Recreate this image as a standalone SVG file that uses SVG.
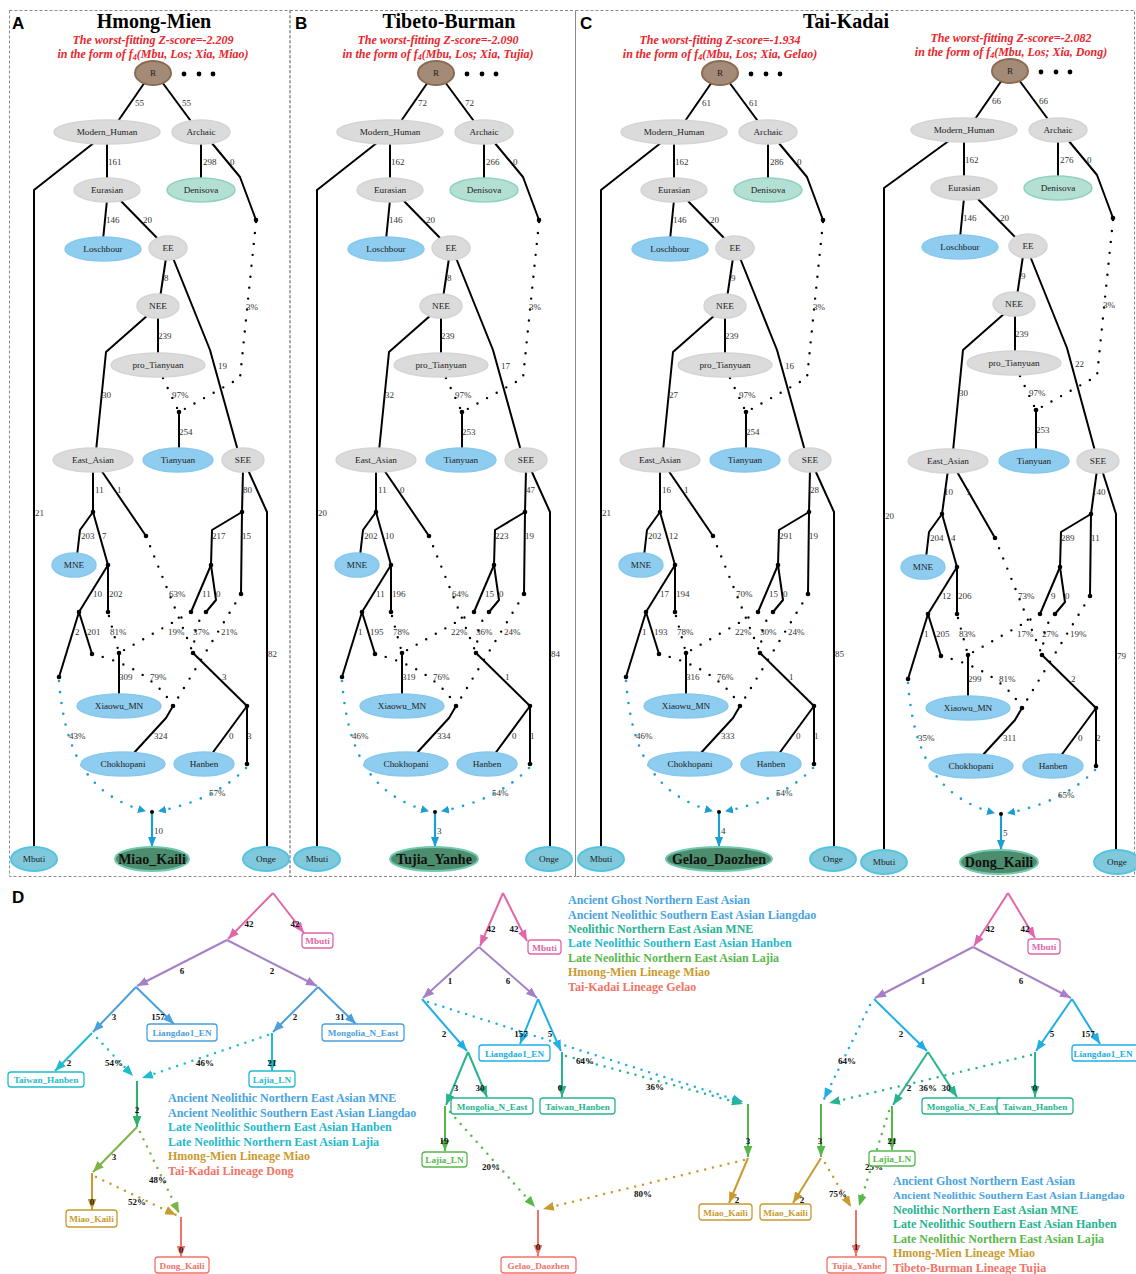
<svg xmlns="http://www.w3.org/2000/svg" width="1136" height="1274" viewBox="0 0 1136 1274">
<style>
text{font-family:"Liberation Serif","Times New Roman",serif}
.n ellipse{stroke-width:1.5}
.n text{font-size:9.2px;fill:#222;text-anchor:middle}
.g ellipse{fill:#dbdbdb;stroke:#d4d4d4}
.b ellipse{fill:#8ecdf0;stroke:#86c8ee}
.dn ellipse{fill:#b4e0d4;stroke:#8dd2c0}
.o ellipse{fill:#80c9dc;stroke:#55c4e0;stroke-width:2}
.r ellipse{fill:#a48b77;stroke:#8a6c53;stroke-width:2}
.r circle{fill:#000}
.t ellipse{fill:#4b8d6d;stroke:#72c8b0;stroke-width:2}
.t text{font-size:14px;font-weight:bold;fill:#111}
.e path{fill:none;stroke:#000;stroke-width:2;stroke-linejoin:round}
.e path.dt{stroke-width:2.4;stroke-dasharray:0 11;stroke-linecap:round}
.e path.cd{stroke:#1a9ed4;stroke-width:2.6;stroke-dasharray:0 11;stroke-linecap:round;marker-end:url(#ca)}
.e path.cs{stroke:#1a9ed4;stroke-width:2.2;marker-end:url(#cb)}
.e circle{fill:#000}
.lb text{font-size:9px;fill:#333}
.ttl{font-size:20px;font-weight:bold;text-anchor:middle;fill:#000}
.sub{font-size:12px;font-weight:bold;font-style:italic;fill:#e8262b;text-anchor:middle}
.let{font-family:"Liberation Sans",Arial,sans-serif;font-size:17px;font-weight:bold;fill:#000}
.frame{fill:none;stroke:#8a8a8a;stroke-width:1;stroke-dasharray:3 2}
.de{fill:none;stroke-width:2}
.dd{fill:none;stroke-width:2.5;stroke-dasharray:0 8;stroke-linecap:round}
.pk{stroke:#e066a9;marker-end:url(#m-pk)}
.pu{stroke:#a680c6;marker-end:url(#m-pu)}
.bl{stroke:#4a9fdc;marker-end:url(#m-bl)}
.sk{stroke:#20aee6;marker-end:url(#m-sk)}
.cy{stroke:#1fbccd;marker-end:url(#m-cy)}
.tl{stroke:#27b48e;marker-end:url(#m-tl)}
.g2{stroke:#2bb36a;marker-end:url(#m-g2)}
.gr{stroke:#57b84a;marker-end:url(#m-gr)}
.yg{stroke:#7db443;marker-end:url(#m-yg)}
.go{stroke:#c99a2e;marker-end:url(#m-go)}
.sa{stroke:#f27366;marker-end:url(#m-sa)}
.bx rect{fill:#fff;stroke-width:1.3}
.bx text{font-size:9.2px;font-weight:bold;text-anchor:middle}
.bpk rect{stroke:#e066a9}.bpk text{fill:#e066a9}
.bbl rect{stroke:#4a9fdc}.bbl text{fill:#4a9fdc}
.bsk rect{stroke:#20aee6}.bsk text{fill:#20aee6}
.bcy rect{stroke:#1fbccd}.bcy text{fill:#1fbccd}
.btl rect{stroke:#27b48e}.btl text{fill:#27b48e}
.bgr rect{stroke:#57b84a}.bgr text{fill:#57b84a}
.bgo rect{stroke:#c99a2e}.bgo text{fill:#c99a2e}
.bsa rect{stroke:#f27366}.bsa text{fill:#f27366}
.dl text{font-size:9px;font-weight:bold;fill:#111;text-anchor:middle}
.lg text{font-size:12px;font-weight:bold}
.lg text.sm{font-size:11.2px}
.fbl{fill:#4aa3df}.fcy{fill:#1fb8cb}.ftl{fill:#27b48e}.fgr{fill:#57b84a}.fgo{fill:#c99a2e}.fsa{fill:#f27366}
</style>
<defs>
<marker id="ca" viewBox="0 0 8 8" refX="7" refY="4" markerWidth="8" markerHeight="8" markerUnits="userSpaceOnUse" orient="auto"><path d="M0,0L8,4L0,8Z" fill="#1a9ed4"/></marker>
<marker id="cb" viewBox="0 0 10 8" refX="10" refY="4" markerWidth="10" markerHeight="8" markerUnits="userSpaceOnUse" orient="auto"><path d="M0,0L10,4L0,8Z" fill="#1a9ed4"/></marker>
<marker id="m-pk" viewBox="0 0 10 8" refX="10" refY="4" markerWidth="11" markerHeight="9" markerUnits="userSpaceOnUse" orient="auto"><path d="M0,0L10,4L0,8Z" fill="#e066a9"/></marker>
<marker id="m-pu" viewBox="0 0 10 8" refX="10" refY="4" markerWidth="11" markerHeight="9" markerUnits="userSpaceOnUse" orient="auto"><path d="M0,0L10,4L0,8Z" fill="#a680c6"/></marker>
<marker id="m-bl" viewBox="0 0 10 8" refX="10" refY="4" markerWidth="11" markerHeight="9" markerUnits="userSpaceOnUse" orient="auto"><path d="M0,0L10,4L0,8Z" fill="#4a9fdc"/></marker>
<marker id="m-sk" viewBox="0 0 10 8" refX="10" refY="4" markerWidth="11" markerHeight="9" markerUnits="userSpaceOnUse" orient="auto"><path d="M0,0L10,4L0,8Z" fill="#20aee6"/></marker>
<marker id="m-cy" viewBox="0 0 10 8" refX="10" refY="4" markerWidth="11" markerHeight="9" markerUnits="userSpaceOnUse" orient="auto"><path d="M0,0L10,4L0,8Z" fill="#1fbccd"/></marker>
<marker id="m-tl" viewBox="0 0 10 8" refX="10" refY="4" markerWidth="11" markerHeight="9" markerUnits="userSpaceOnUse" orient="auto"><path d="M0,0L10,4L0,8Z" fill="#27b48e"/></marker>
<marker id="m-g2" viewBox="0 0 10 8" refX="10" refY="4" markerWidth="11" markerHeight="9" markerUnits="userSpaceOnUse" orient="auto"><path d="M0,0L10,4L0,8Z" fill="#2bb36a"/></marker>
<marker id="m-gr" viewBox="0 0 10 8" refX="10" refY="4" markerWidth="11" markerHeight="9" markerUnits="userSpaceOnUse" orient="auto"><path d="M0,0L10,4L0,8Z" fill="#57b84a"/></marker>
<marker id="m-yg" viewBox="0 0 10 8" refX="10" refY="4" markerWidth="11" markerHeight="9" markerUnits="userSpaceOnUse" orient="auto"><path d="M0,0L10,4L0,8Z" fill="#7db443"/></marker>
<marker id="m-go" viewBox="0 0 10 8" refX="10" refY="4" markerWidth="11" markerHeight="9" markerUnits="userSpaceOnUse" orient="auto"><path d="M0,0L10,4L0,8Z" fill="#c99a2e"/></marker>
<marker id="m-sa" viewBox="0 0 10 8" refX="10" refY="4" markerWidth="11" markerHeight="9" markerUnits="userSpaceOnUse" orient="auto"><path d="M0,0L10,4L0,8Z" fill="#f27366"/></marker>
</defs>
<rect width="1136" height="1274" fill="#fff"/>
<g id="frames">
<rect class="frame" x="9.5" y="10.5" width="280.5" height="866"/>
<rect class="frame" x="290" y="10.5" width="285.5" height="866"/>
<rect class="frame" x="575.5" y="10.5" width="559" height="866"/>
</g>
<g id="headings">
<text class="let" x="12" y="29">A</text>
<text class="let" x="295" y="29">B</text>
<text class="let" x="580" y="29">C</text>
<text class="let" x="12" y="903">D</text>
<text class="ttl" x="154" y="28">Hmong-Mien</text>
<text class="ttl" x="449" y="28">Tibeto-Burman</text>
<text class="ttl" x="846" y="28">Tai-Kadai</text>
<text class="sub" x="153" y="44">The worst-fitting Z-score=-2.209</text>
<text class="sub" x="153" y="58">in the form of f<tspan font-size="8" dy="2">4</tspan><tspan dy="-2">(Mbu, Los; Xia, Miao)</tspan></text>
<text class="sub" x="438" y="44">The worst-fitting Z-score=-2.090</text>
<text class="sub" x="438" y="58">in the form of f<tspan font-size="8" dy="2">4</tspan><tspan dy="-2">(Mbu, Los; Xia, Tujia)</tspan></text>
<text class="sub" x="720" y="44">The worst-fitting Z-score=-1.934</text>
<text class="sub" x="720" y="58">in the form of f<tspan font-size="8" dy="2">4</tspan><tspan dy="-2">(Mbu, Los; Xia, Gelao)</tspan></text>
<text class="sub" x="1011" y="42">The worst-fitting Z-score=-2.082</text>
<text class="sub" x="1011" y="56">in the form of f<tspan font-size="8" dy="2">4</tspan><tspan dy="-2">(Mbu, Los; Xia, Dong)</tspan></text>
</g>

<!-- PANEL A -->
<g id="panelA">
<g id="A-connectors" class="e">
<path d="M145,82L116,124"/><path d="M162,82L193,124"/><path d="M95,142L34,190L34,850"/><path d="M107,142L107,181"/><path d="M201,142L201,181"/><path d="M211,142L240,177L256,220"/><path d="M107,200L103,240"/><path d="M119,199L159,240"/><path d="M166,258L160,298"/><path d="M173,258L210,350L238,451"/><path d="M148,315L106,352L96,451"/><path d="M158,317L158,356"/><path d="M179,412L179,451"/><path class="dt" d="M256,222L240,378L181,411"/><path class="dt" d="M163,378L178,410"/><circle cx="256" cy="220" r="2.3"/><circle cx="179" cy="412" r="2.3"/>
<path d="M93,470L93,512"/><path d="M101,470L146,536"/><path d="M93,512L80,530L77,556"/><path d="M93,512L108,565"/><path d="M108,565L108,612"/><path d="M108,565L79,612"/><path d="M79,612L59,677"/><path d="M79,612L92,654"/><path d="M119,653L119,697"/><path d="M173,706L166,718L132,755"/><path d="M243,470L242,512"/><path d="M248,470L267,512L267,850"/><path d="M242,512L212,530L211,565"/><path d="M242,512L241,594"/><path d="M211,565L191,612"/><path d="M211,565L216,600L206,612"/><path d="M193,653L247,706"/><path d="M247,706L211,755"/><path d="M247,706L247,764"/><path class="dt" d="M109,616L119,653"/><path class="dt" d="M191,612L119,653"/><path class="dt" d="M146,536L193,653"/><path class="dt" d="M206,612L196,625L193,653"/><path class="dt" d="M92,654Q150,668 173,706"/><path class="dt" d="M241,594L173,706"/><path class="cd" d="M59,681C66,770 100,798 145,811"/><path class="cd" d="M246,768Q215,800 159,811"/><path class="cs" d="M152,814L152,847"/>
<circle cx="93" cy="512" r="2.3"/><circle cx="108" cy="565" r="2.3"/><circle cx="108" cy="612" r="2.3"/><circle cx="79" cy="612" r="2.3"/><circle cx="59" cy="677" r="2.3"/><circle cx="92" cy="654" r="2.3"/><circle cx="146" cy="536" r="2.3"/><circle cx="242" cy="512" r="2.3"/><circle cx="211" cy="565" r="2.3"/><circle cx="241" cy="594" r="2.3"/><circle cx="191" cy="612" r="2.3"/><circle cx="206" cy="612" r="2.3"/><circle cx="119" cy="653" r="2.3"/><circle cx="193" cy="653" r="2.3"/><circle cx="173" cy="706" r="2.3"/><circle cx="247" cy="706" r="2.3"/><circle cx="247" cy="764" r="2.3"/><circle cx="152" cy="812" r="2"/>
<g class="lb"><text x="135" y="106">55</text><text x="182" y="106">55</text><text x="108" y="165">161</text><text x="203" y="165">298</text><text x="230" y="165">0</text><text x="106" y="223">146</text><text x="143" y="223">20</text><text x="164" y="281">8</text><text x="158" y="339">239</text><text x="218" y="369">19</text><text x="246" y="310">3%</text><text x="102" y="398">30</text><text x="172" y="398">97%</text><text x="179" y="435">254</text><text x="35" y="516">21</text>
<text x="95" y="493">11</text><text x="117" y="493">1</text><text x="81" y="539">203</text><text x="102" y="539">7</text><text x="93" y="597">10</text><text x="109" y="597">202</text><text x="75" y="635">2</text><text x="87" y="635">201</text><text x="110" y="635">81%</text><text x="169" y="597">63%</text><text x="202" y="597">11</text><text x="216" y="597">0</text><text x="168" y="635">19%</text><text x="193" y="635">37%</text><text x="221" y="635">21%</text><text x="243" y="493">80</text><text x="212" y="539">217</text><text x="242" y="539">15</text><text x="268" y="657">82</text><text x="119" y="680">309</text><text x="150" y="680">79%</text><text x="222" y="680">3</text><text x="69" y="739">43%</text><text x="154" y="739">324</text><text x="229" y="739">0</text><text x="247" y="739">3</text><text x="209" y="796">57%</text><text x="154" y="834">10</text></g>
</g>
<g id="A-R" class="n r"><ellipse cx="153" cy="73" rx="18" ry="12"/><text x="153" y="76">R</text><circle cx="184" cy="74" r="2.4"/><circle cx="199" cy="74" r="2.4"/><circle cx="213" cy="74" r="2.4"/></g>
<g id="A-MH" class="n g"><ellipse cx="107" cy="132" rx="53" ry="12"/><text x="107" y="135">Modern_Human</text></g>
<g id="A-Arch" class="n g"><ellipse cx="201" cy="132" rx="29" ry="12"/><text x="201" y="135">Archaic</text></g>
<g id="A-Eur" class="n g"><ellipse cx="107" cy="190" rx="33" ry="12"/><text x="107" y="193">Eurasian</text></g>
<g id="A-Den" class="n dn"><ellipse cx="201" cy="190" rx="34" ry="12"/><text x="201" y="193">Denisova</text></g>
<g id="A-Los" class="n b"><ellipse cx="103" cy="249" rx="38" ry="12"/><text x="103" y="252">Loschbour</text></g>
<g id="A-EE" class="n g"><ellipse cx="168" cy="248" rx="19" ry="12"/><text x="168" y="251">EE</text></g>
<g id="A-NEE" class="n g"><ellipse cx="158" cy="306" rx="21" ry="12"/><text x="158" y="309">NEE</text></g>
<g id="A-proT" class="n g"><ellipse cx="158" cy="365" rx="47" ry="12"/><text x="158" y="368">pro_Tianyuan</text></g>
<g id="A-EA" class="n g"><ellipse cx="93" cy="460" rx="40" ry="12"/><text x="93" y="463">East_Asian</text></g>
<g id="A-Tia" class="n b"><ellipse cx="178" cy="460" rx="35" ry="12"/><text x="178" y="463">Tianyuan</text></g>
<g id="A-SEE" class="n g"><ellipse cx="243" cy="460" rx="21" ry="12"/><text x="243" y="463">SEE</text></g>
<g id="A-MNE" class="n b"><ellipse cx="74" cy="565" rx="22" ry="12"/><text x="74" y="568">MNE</text></g>
<g id="A-Xia" class="n b"><ellipse cx="119" cy="706" rx="42" ry="12"/><text x="119" y="709">Xiaowu_MN</text></g>
<g id="A-Cho" class="n b"><ellipse cx="123" cy="764" rx="42" ry="12"/><text x="123" y="767">Chokhopani</text></g>
<g id="A-Han" class="n b"><ellipse cx="204" cy="764" rx="30" ry="12"/><text x="204" y="767">Hanben</text></g>
<g id="A-Mbuti" class="n o"><ellipse cx="34" cy="859" rx="23" ry="12"/><text x="34" y="862">Mbuti</text></g>
<g id="A-Onge" class="n o"><ellipse cx="266" cy="859" rx="23" ry="12"/><text x="266" y="862">Onge</text></g>
<g id="A-Target" class="n t"><ellipse cx="152" cy="859" rx="37" ry="12"/><text x="152" y="864">Miao_Kaili</text></g>
</g>

<!-- PANEL B -->
<g id="panelB" transform="translate(283,0)">
<g id="B-connectors" class="e">
<path d="M145,82L116,124"/><path d="M162,82L193,124"/><path d="M95,142L34,190L34,850"/><path d="M107,142L107,181"/><path d="M201,142L201,181"/><path d="M211,142L240,177L256,220"/><path d="M107,200L103,240"/><path d="M119,199L159,240"/><path d="M166,258L160,298"/><path d="M173,258L210,350L238,451"/><path d="M148,315L106,352L96,451"/><path d="M158,317L158,356"/><path d="M179,412L179,451"/><path class="dt" d="M256,222L240,378L181,411"/><path class="dt" d="M163,378L178,410"/><circle cx="256" cy="220" r="2.3"/><circle cx="179" cy="412" r="2.3"/>
<path d="M93,470L93,512"/><path d="M101,470L146,536"/><path d="M93,512L80,530L77,556"/><path d="M93,512L108,565"/><path d="M108,565L108,612"/><path d="M108,565L79,612"/><path d="M79,612L59,677"/><path d="M79,612L92,654"/><path d="M119,653L119,697"/><path d="M173,706L166,718L132,755"/><path d="M243,470L242,512"/><path d="M248,470L267,512L267,850"/><path d="M242,512L212,530L211,565"/><path d="M242,512L241,594"/><path d="M211,565L191,612"/><path d="M211,565L216,600L206,612"/><path d="M193,653L247,706"/><path d="M247,706L211,755"/><path d="M247,706L247,764"/><path class="dt" d="M109,616L119,653"/><path class="dt" d="M191,612L119,653"/><path class="dt" d="M146,536L193,653"/><path class="dt" d="M206,612L196,625L193,653"/><path class="dt" d="M92,654Q150,668 173,706"/><path class="dt" d="M241,594L173,706"/><path class="cd" d="M59,681C66,770 100,798 145,811"/><path class="cd" d="M246,768Q215,800 159,811"/><path class="cs" d="M152,814L152,847"/>
<circle cx="93" cy="512" r="2.3"/><circle cx="108" cy="565" r="2.3"/><circle cx="108" cy="612" r="2.3"/><circle cx="79" cy="612" r="2.3"/><circle cx="59" cy="677" r="2.3"/><circle cx="92" cy="654" r="2.3"/><circle cx="146" cy="536" r="2.3"/><circle cx="242" cy="512" r="2.3"/><circle cx="211" cy="565" r="2.3"/><circle cx="241" cy="594" r="2.3"/><circle cx="191" cy="612" r="2.3"/><circle cx="206" cy="612" r="2.3"/><circle cx="119" cy="653" r="2.3"/><circle cx="193" cy="653" r="2.3"/><circle cx="173" cy="706" r="2.3"/><circle cx="247" cy="706" r="2.3"/><circle cx="247" cy="764" r="2.3"/><circle cx="152" cy="812" r="2"/>
<g class="lb"><text x="135" y="106">72</text><text x="182" y="106">72</text><text x="108" y="165">162</text><text x="203" y="165">266</text><text x="230" y="165">0</text><text x="106" y="223">146</text><text x="143" y="223">20</text><text x="164" y="281">8</text><text x="158" y="339">239</text><text x="218" y="369">17</text><text x="246" y="310">3%</text><text x="102" y="398">32</text><text x="172" y="398">97%</text><text x="179" y="435">253</text><text x="35" y="516">20</text>
<text x="95" y="493">11</text><text x="117" y="493">0</text><text x="81" y="539">202</text><text x="102" y="539">10</text><text x="93" y="597">11</text><text x="109" y="597">196</text><text x="75" y="635">1</text><text x="87" y="635">195</text><text x="110" y="635">78%</text><text x="169" y="597">64%</text><text x="202" y="597">15</text><text x="216" y="597">0</text><text x="168" y="635">22%</text><text x="193" y="635">36%</text><text x="221" y="635">24%</text><text x="243" y="493">47</text><text x="212" y="539">223</text><text x="242" y="539">19</text><text x="268" y="657">84</text><text x="119" y="680">319</text><text x="150" y="680">76%</text><text x="222" y="680">1</text><text x="69" y="739">46%</text><text x="154" y="739">334</text><text x="229" y="739">0</text><text x="247" y="739">1</text><text x="209" y="796">54%</text><text x="154" y="834">3</text></g>
</g>
<g id="B-R" class="n r"><ellipse cx="153" cy="73" rx="18" ry="12"/><text x="153" y="76">R</text><circle cx="184" cy="74" r="2.4"/><circle cx="199" cy="74" r="2.4"/><circle cx="213" cy="74" r="2.4"/></g>
<g id="B-MH" class="n g"><ellipse cx="107" cy="132" rx="53" ry="12"/><text x="107" y="135">Modern_Human</text></g>
<g id="B-Arch" class="n g"><ellipse cx="201" cy="132" rx="29" ry="12"/><text x="201" y="135">Archaic</text></g>
<g id="B-Eur" class="n g"><ellipse cx="107" cy="190" rx="33" ry="12"/><text x="107" y="193">Eurasian</text></g>
<g id="B-Den" class="n dn"><ellipse cx="201" cy="190" rx="34" ry="12"/><text x="201" y="193">Denisova</text></g>
<g id="B-Los" class="n b"><ellipse cx="103" cy="249" rx="38" ry="12"/><text x="103" y="252">Loschbour</text></g>
<g id="B-EE" class="n g"><ellipse cx="168" cy="248" rx="19" ry="12"/><text x="168" y="251">EE</text></g>
<g id="B-NEE" class="n g"><ellipse cx="158" cy="306" rx="21" ry="12"/><text x="158" y="309">NEE</text></g>
<g id="B-proT" class="n g"><ellipse cx="158" cy="365" rx="47" ry="12"/><text x="158" y="368">pro_Tianyuan</text></g>
<g id="B-EA" class="n g"><ellipse cx="93" cy="460" rx="40" ry="12"/><text x="93" y="463">East_Asian</text></g>
<g id="B-Tia" class="n b"><ellipse cx="178" cy="460" rx="35" ry="12"/><text x="178" y="463">Tianyuan</text></g>
<g id="B-SEE" class="n g"><ellipse cx="243" cy="460" rx="21" ry="12"/><text x="243" y="463">SEE</text></g>
<g id="B-MNE" class="n b"><ellipse cx="74" cy="565" rx="22" ry="12"/><text x="74" y="568">MNE</text></g>
<g id="B-Xia" class="n b"><ellipse cx="119" cy="706" rx="42" ry="12"/><text x="119" y="709">Xiaowu_MN</text></g>
<g id="B-Cho" class="n b"><ellipse cx="123" cy="764" rx="42" ry="12"/><text x="123" y="767">Chokhopani</text></g>
<g id="B-Han" class="n b"><ellipse cx="204" cy="764" rx="30" ry="12"/><text x="204" y="767">Hanben</text></g>
<g id="B-Mbuti" class="n o"><ellipse cx="34" cy="859" rx="23" ry="12"/><text x="34" y="862">Mbuti</text></g>
<g id="B-Onge" class="n o"><ellipse cx="266" cy="859" rx="23" ry="12"/><text x="266" y="862">Onge</text></g>
<g id="B-Target" class="n t"><ellipse cx="151" cy="859" rx="44" ry="12"/><text x="151" y="864">Tujia_Yanhe</text></g>
</g>

<!-- PANEL C1 -->
<g id="panelC1" transform="translate(567,0)">
<g id="C1-connectors" class="e">
<path d="M145,82L116,124"/><path d="M162,82L193,124"/><path d="M95,142L34,190L34,850"/><path d="M107,142L107,181"/><path d="M201,142L201,181"/><path d="M211,142L240,177L256,220"/><path d="M107,200L103,240"/><path d="M119,199L159,240"/><path d="M166,258L160,298"/><path d="M173,258L210,350L238,451"/><path d="M148,315L106,352L96,451"/><path d="M158,317L158,356"/><path d="M179,412L179,451"/><path class="dt" d="M256,222L240,378L181,411"/><path class="dt" d="M163,378L178,410"/><circle cx="256" cy="220" r="2.3"/><circle cx="179" cy="412" r="2.3"/>
<path d="M93,470L93,512"/><path d="M101,470L146,536"/><path d="M93,512L80,530L77,556"/><path d="M93,512L108,565"/><path d="M108,565L108,612"/><path d="M108,565L79,612"/><path d="M79,612L59,677"/><path d="M79,612L92,654"/><path d="M119,653L119,697"/><path d="M173,706L166,718L132,755"/><path d="M243,470L242,512"/><path d="M248,470L267,512L267,850"/><path d="M242,512L212,530L211,565"/><path d="M242,512L241,594"/><path d="M211,565L191,612"/><path d="M211,565L216,600L206,612"/><path d="M193,653L247,706"/><path d="M247,706L211,755"/><path d="M247,706L247,764"/><path class="dt" d="M109,616L119,653"/><path class="dt" d="M191,612L119,653"/><path class="dt" d="M146,536L193,653"/><path class="dt" d="M206,612L196,625L193,653"/><path class="dt" d="M92,654Q150,668 173,706"/><path class="dt" d="M241,594L173,706"/><path class="cd" d="M59,681C66,770 100,798 145,811"/><path class="cd" d="M246,768Q215,800 159,811"/><path class="cs" d="M152,814L152,847"/>
<circle cx="93" cy="512" r="2.3"/><circle cx="108" cy="565" r="2.3"/><circle cx="108" cy="612" r="2.3"/><circle cx="79" cy="612" r="2.3"/><circle cx="59" cy="677" r="2.3"/><circle cx="92" cy="654" r="2.3"/><circle cx="146" cy="536" r="2.3"/><circle cx="242" cy="512" r="2.3"/><circle cx="211" cy="565" r="2.3"/><circle cx="241" cy="594" r="2.3"/><circle cx="191" cy="612" r="2.3"/><circle cx="206" cy="612" r="2.3"/><circle cx="119" cy="653" r="2.3"/><circle cx="193" cy="653" r="2.3"/><circle cx="173" cy="706" r="2.3"/><circle cx="247" cy="706" r="2.3"/><circle cx="247" cy="764" r="2.3"/><circle cx="152" cy="812" r="2"/>
<g class="lb"><text x="135" y="106">61</text><text x="182" y="106">61</text><text x="108" y="165">162</text><text x="203" y="165">286</text><text x="230" y="165">0</text><text x="106" y="223">146</text><text x="143" y="223">20</text><text x="164" y="281">9</text><text x="158" y="339">239</text><text x="218" y="369">16</text><text x="246" y="310">3%</text><text x="102" y="398">27</text><text x="172" y="398">97%</text><text x="179" y="435">254</text><text x="35" y="516">21</text>
<text x="95" y="493">16</text><text x="117" y="493">1</text><text x="81" y="539">202</text><text x="102" y="539">12</text><text x="93" y="597">17</text><text x="109" y="597">194</text><text x="75" y="635">1</text><text x="87" y="635">193</text><text x="110" y="635">78%</text><text x="169" y="597">70%</text><text x="202" y="597">15</text><text x="216" y="597">0</text><text x="168" y="635">22%</text><text x="193" y="635">30%</text><text x="221" y="635">24%</text><text x="243" y="493">28</text><text x="212" y="539">291</text><text x="242" y="539">19</text><text x="268" y="657">85</text><text x="119" y="680">316</text><text x="150" y="680">76%</text><text x="222" y="680">1</text><text x="69" y="739">46%</text><text x="154" y="739">333</text><text x="229" y="739">0</text><text x="247" y="739">1</text><text x="209" y="796">54%</text><text x="154" y="834">4</text></g>
</g>
<g id="C1-R" class="n r"><ellipse cx="153" cy="73" rx="18" ry="12"/><text x="153" y="76">R</text><circle cx="184" cy="74" r="2.4"/><circle cx="199" cy="74" r="2.4"/><circle cx="213" cy="74" r="2.4"/></g>
<g id="C1-MH" class="n g"><ellipse cx="107" cy="132" rx="53" ry="12"/><text x="107" y="135">Modern_Human</text></g>
<g id="C1-Arch" class="n g"><ellipse cx="201" cy="132" rx="29" ry="12"/><text x="201" y="135">Archaic</text></g>
<g id="C1-Eur" class="n g"><ellipse cx="107" cy="190" rx="33" ry="12"/><text x="107" y="193">Eurasian</text></g>
<g id="C1-Den" class="n dn"><ellipse cx="201" cy="190" rx="34" ry="12"/><text x="201" y="193">Denisova</text></g>
<g id="C1-Los" class="n b"><ellipse cx="103" cy="249" rx="38" ry="12"/><text x="103" y="252">Loschbour</text></g>
<g id="C1-EE" class="n g"><ellipse cx="168" cy="248" rx="19" ry="12"/><text x="168" y="251">EE</text></g>
<g id="C1-NEE" class="n g"><ellipse cx="158" cy="306" rx="21" ry="12"/><text x="158" y="309">NEE</text></g>
<g id="C1-proT" class="n g"><ellipse cx="158" cy="365" rx="47" ry="12"/><text x="158" y="368">pro_Tianyuan</text></g>
<g id="C1-EA" class="n g"><ellipse cx="93" cy="460" rx="40" ry="12"/><text x="93" y="463">East_Asian</text></g>
<g id="C1-Tia" class="n b"><ellipse cx="178" cy="460" rx="35" ry="12"/><text x="178" y="463">Tianyuan</text></g>
<g id="C1-SEE" class="n g"><ellipse cx="243" cy="460" rx="21" ry="12"/><text x="243" y="463">SEE</text></g>
<g id="C1-MNE" class="n b"><ellipse cx="74" cy="565" rx="22" ry="12"/><text x="74" y="568">MNE</text></g>
<g id="C1-Xia" class="n b"><ellipse cx="119" cy="706" rx="42" ry="12"/><text x="119" y="709">Xiaowu_MN</text></g>
<g id="C1-Cho" class="n b"><ellipse cx="123" cy="764" rx="42" ry="12"/><text x="123" y="767">Chokhopani</text></g>
<g id="C1-Han" class="n b"><ellipse cx="204" cy="764" rx="30" ry="12"/><text x="204" y="767">Hanben</text></g>
<g id="C1-Mbuti" class="n o"><ellipse cx="34" cy="859" rx="23" ry="12"/><text x="34" y="862">Mbuti</text></g>
<g id="C1-Onge" class="n o"><ellipse cx="266" cy="859" rx="23" ry="12"/><text x="266" y="862">Onge</text></g>
<g id="C1-Target" class="n t"><ellipse cx="152" cy="859" rx="53" ry="12"/><text x="152" y="864">Gelao_Daozhen</text></g>
</g>

<!-- PANEL C2 -->
<g id="panelC2">
<g id="C2-connectors" class="e">
<g transform="translate(857,-2)">
<path d="M145,82L116,124"/><path d="M162,82L193,124"/><path d="M107,142L107,181"/><path d="M201,142L201,181"/><path d="M211,142L240,177L256,220"/><path d="M107,200L103,240"/><path d="M119,199L159,240"/><path d="M166,258L160,298"/><path d="M173,258L210,350L238,453"/><path d="M148,315L106,352L96,453"/><path d="M158,317L158,356"/><path d="M179,412L179,453"/><path class="dt" d="M256,222L240,378L181,411"/><path class="dt" d="M163,378L178,410"/><circle cx="256" cy="220" r="2.3"/><circle cx="179" cy="412" r="2.3"/>
<g class="lb"><text x="135" y="106">66</text><text x="182" y="106">66</text><text x="108" y="165">162</text><text x="203" y="165">276</text><text x="230" y="165">0</text><text x="106" y="223">146</text><text x="143" y="223">20</text><text x="164" y="281">9</text><text x="158" y="339">239</text><text x="218" y="369">22</text><text x="246" y="310">3%</text><text x="102" y="398">30</text><text x="172" y="398">97%</text><text x="179" y="435">253</text></g>
</g>
<path d="M950,140L884,188L884,851"/>
<g class="lb"><text x="885" y="519">20</text></g>
<g transform="translate(849,2)">
<path d="M99,468L93,512"/><path d="M107,468L146,536"/><path d="M93,512L80,530L77,556"/><path d="M93,512L108,565"/><path d="M108,565L108,612"/><path d="M108,565L79,612"/><path d="M79,612L59,677"/><path d="M79,612L92,654"/><path d="M119,653L119,697"/><path d="M173,706L166,718L132,755"/><path d="M248,468L242,512"/><path d="M253,468L267,512L267,850"/><path d="M242,512L212,530L211,565"/><path d="M242,512L241,594"/><path d="M211,565L191,612"/><path d="M211,565L216,600L206,612"/><path d="M193,653L247,706"/><path d="M247,706L211,755"/><path d="M247,706L247,764"/><path class="dt" d="M109,616L119,653"/><path class="dt" d="M191,612L119,653"/><path class="dt" d="M146,536L193,653"/><path class="dt" d="M206,612L196,625L193,653"/><path class="dt" d="M92,654Q150,668 173,706"/><path class="dt" d="M241,594L173,706"/><path class="cd" d="M59,681C66,770 100,798 145,811"/><path class="cd" d="M246,768Q215,800 159,811"/><path class="cs" d="M152,814L152,848"/>
<circle cx="93" cy="512" r="2.3"/><circle cx="108" cy="565" r="2.3"/><circle cx="108" cy="612" r="2.3"/><circle cx="79" cy="612" r="2.3"/><circle cx="59" cy="677" r="2.3"/><circle cx="92" cy="654" r="2.3"/><circle cx="146" cy="536" r="2.3"/><circle cx="242" cy="512" r="2.3"/><circle cx="211" cy="565" r="2.3"/><circle cx="241" cy="594" r="2.3"/><circle cx="191" cy="612" r="2.3"/><circle cx="206" cy="612" r="2.3"/><circle cx="119" cy="653" r="2.3"/><circle cx="193" cy="653" r="2.3"/><circle cx="173" cy="706" r="2.3"/><circle cx="247" cy="706" r="2.3"/><circle cx="247" cy="764" r="2.3"/><circle cx="152" cy="812" r="2"/>
<g class="lb"><text x="95" y="493">10</text><text x="117" y="493">1</text><text x="81" y="539">204</text><text x="102" y="539">4</text><text x="93" y="597">12</text><text x="109" y="597">206</text><text x="75" y="635">1</text><text x="87" y="635">205</text><text x="110" y="635">83%</text><text x="169" y="597">73%</text><text x="202" y="597">9</text><text x="216" y="597">0</text><text x="168" y="635">17%</text><text x="193" y="635">27%</text><text x="221" y="635">19%</text><text x="243" y="493">140</text><text x="212" y="539">289</text><text x="242" y="539">11</text><text x="268" y="657">79</text><text x="119" y="680">299</text><text x="150" y="680">81%</text><text x="222" y="680">2</text><text x="69" y="739">35%</text><text x="154" y="739">311</text><text x="229" y="739">0</text><text x="247" y="739">2</text><text x="209" y="796">65%</text><text x="154" y="834">5</text></g>
</g>
</g>
<g transform="translate(857,-2)">
<g id="C2-R" class="n r"><ellipse cx="153" cy="73" rx="18" ry="12"/><text x="153" y="76">R</text><circle cx="184" cy="74" r="2.4"/><circle cx="199" cy="74" r="2.4"/><circle cx="213" cy="74" r="2.4"/></g>
<g id="C2-MH" class="n g"><ellipse cx="107" cy="132" rx="53" ry="12"/><text x="107" y="135">Modern_Human</text></g>
<g id="C2-Arch" class="n g"><ellipse cx="201" cy="132" rx="29" ry="12"/><text x="201" y="135">Archaic</text></g>
<g id="C2-Eur" class="n g"><ellipse cx="107" cy="190" rx="33" ry="12"/><text x="107" y="193">Eurasian</text></g>
<g id="C2-Den" class="n dn"><ellipse cx="201" cy="190" rx="34" ry="12"/><text x="201" y="193">Denisova</text></g>
<g id="C2-Los" class="n b"><ellipse cx="103" cy="249" rx="38" ry="12"/><text x="103" y="252">Loschbour</text></g>
<g id="C2-EE" class="n g"><ellipse cx="171" cy="248" rx="19" ry="12"/><text x="171" y="251">EE</text></g>
<g id="C2-NEE" class="n g"><ellipse cx="157" cy="306" rx="21" ry="12"/><text x="157" y="309">NEE</text></g>
<g id="C2-proT" class="n g"><ellipse cx="157" cy="365" rx="47" ry="12"/><text x="157" y="368">pro_Tianyuan</text></g>
</g>
<g transform="translate(855,1)">
<g id="C2-EA" class="n g"><ellipse cx="93" cy="460" rx="40" ry="12"/><text x="93" y="463">East_Asian</text></g>
<g id="C2-Tia" class="n b"><ellipse cx="179" cy="460" rx="35" ry="12"/><text x="179" y="463">Tianyuan</text></g>
<g id="C2-SEE" class="n g"><ellipse cx="243" cy="460" rx="21" ry="12"/><text x="243" y="463">SEE</text></g>
</g>
<g transform="translate(849,2)">
<g id="C2-MNE" class="n b"><ellipse cx="74" cy="565" rx="22" ry="12"/><text x="74" y="568">MNE</text></g>
<g id="C2-Xia" class="n b"><ellipse cx="119" cy="706" rx="42" ry="12"/><text x="119" y="709">Xiaowu_MN</text></g>
<g id="C2-Cho" class="n b"><ellipse cx="122" cy="764" rx="42" ry="12"/><text x="122" y="767">Chokhopani</text></g>
<g id="C2-Han" class="n b"><ellipse cx="204" cy="764" rx="30" ry="12"/><text x="204" y="767">Hanben</text></g>
<g id="C2-Mbuti" class="n o"><ellipse cx="35" cy="860" rx="23" ry="12"/><text x="35" y="863">Mbuti</text></g>
<g id="C2-Onge" class="n o"><ellipse cx="268" cy="860" rx="23" ry="12"/><text x="268" y="863">Onge</text></g>
<g id="C2-Target" class="n t"><ellipse cx="150" cy="860" rx="39" ry="12"/><text x="150" y="865">Dong_Kaili</text></g>
</g>
</g>

<!-- PANEL D -->
<g id="panelD">
<g id="D-connectors">
<path class="de pk" d="M273,893L228,939"/><path class="de pk" d="M273,893L304,933"/>
<path class="de pu" d="M227,940L137,986"/><path class="de pu" d="M227,940L317,986"/>
<path class="de bl" d="M136,987L93,1032"/><path class="de bl" d="M136,987L174,1024"/>
<path class="de bl" d="M318,987L273,1032"/><path class="de bl" d="M318,987L356,1024"/>
<path class="de cy" d="M92,1033L55,1071"/><path class="de cy" d="M272,1033L272,1071"/>
<path class="dd cy" d="M97,1038L133,1076"/><path class="dd cy" d="M268,1035L142,1078"/>
<path class="de g2" d="M137,1081L137,1127"/>
<path class="de yg" d="M137,1127L93,1172"/><path class="dd yg" d="M140,1132L179,1213"/>
<path class="de go" d="M92,1173L92,1210"/><path class="dd go" d="M96,1177L176,1215"/>
<path class="de sa" d="M181,1217L181,1257"/>

<path class="de pk" d="M503,893L480,946"/><path class="de pk" d="M503,893L527,941"/>
<path class="de pu" d="M479,947L423,998"/><path class="de pu" d="M479,947L537,998"/>
<path class="de sk" d="M422,999L467,1051"/><path class="de sk" d="M538,999L520,1044"/><path class="de sk" d="M538,999L561,1051"/>
<path class="dd sk" d="M428,1002L743,1102"/>
<path class="de tl" d="M468,1052L446,1105"/><path class="de tl" d="M468,1052L487,1097"/><path class="de tl" d="M562,1052L562,1097"/>
<path class="dd tl" d="M566,1056L743,1104"/>
<path class="de gr" d="M445,1106L445,1151"/><path class="de gr" d="M748,1104L748,1157"/>
<path class="dd gr" d="M450,1112L535,1207"/>
<path class="de go" d="M748,1158L729,1203"/><path class="dd go" d="M744,1160L543,1209"/>
<path class="de sa" d="M538,1210L538,1256"/>

<path class="de pk" d="M1008,893L974,946"/><path class="de pk" d="M1008,893L1035,938"/>
<path class="de pu" d="M973,947L875,998"/><path class="de pu" d="M973,947L1071,998"/>
<path class="de sk" d="M874,999L927,1051"/><path class="de sk" d="M1072,999L1036,1051"/><path class="de sk" d="M1072,999L1100,1044"/>
<path class="dd sk" d="M870,1005L824,1099"/>
<path class="de tl" d="M928,1052L893,1105"/><path class="de tl" d="M928,1052L957,1097"/><path class="de tl" d="M1035,1052L1035,1097"/>
<path class="dd tl" d="M1031,1055L829,1103"/>
<path class="de gr" d="M892,1106L892,1150"/><path class="de gr" d="M821,1104L821,1157"/>
<path class="dd gr" d="M889,1111L859,1206"/>
<path class="de go" d="M821,1158L793,1203"/><path class="dd go" d="M825,1163L851,1207"/>
<path class="de sa" d="M856,1210L856,1256"/>

<g class="dl">
<text x="249" y="927">42</text><text x="295" y="927">42</text><text x="182" y="974">6</text><text x="272" y="974">2</text><text x="114" y="1020">3</text><text x="158" y="1020">157</text><text x="295" y="1020">2</text><text x="340" y="1020">31</text><text x="69" y="1066">2</text><text x="114" y="1066">54%</text><text x="205" y="1066">46%</text><text x="272" y="1066">21</text><text x="137" y="1113">2</text><text x="114" y="1160">3</text><text x="158" y="1183">48%</text><text x="92" y="1205">0</text><text x="137" y="1205">52%</text><text x="181" y="1253">0</text>
<text x="491" y="932">42</text><text x="514" y="932">42</text><text x="450" y="984">1</text><text x="508" y="984">6</text><text x="444" y="1037">2</text><text x="521" y="1037">157</text><text x="550" y="1037">5</text><text x="585" y="1064">64%</text><text x="655" y="1090">36%</text><text x="456" y="1091">3</text><text x="480" y="1091">30</text><text x="560" y="1091">0</text><text x="444" y="1144">19</text><text x="748" y="1144">3</text><text x="491" y="1170">20%</text><text x="643" y="1197">80%</text><text x="737" y="1203">2</text><text x="538" y="1250">0</text>
<text x="990" y="932">42</text><text x="1025" y="932">42</text><text x="923" y="984">1</text><text x="1021" y="984">6</text><text x="901" y="1037">2</text><text x="1052" y="1037">5</text><text x="1088" y="1037">157</text><text x="847" y="1064">64%</text><text x="909" y="1091">2</text><text x="928" y="1091">36%</text><text x="946" y="1091">30</text><text x="1035" y="1091">0</text><text x="820" y="1144">3</text><text x="892" y="1144">21</text><text x="874" y="1170">25%</text><text x="838" y="1197">75%</text><text x="802" y="1203">2</text><text x="856" y="1250">1</text>
</g>
</g>
<g id="D1-Mbuti" class="bx bpk"><rect x="302" y="933" width="31" height="15" rx="3"/><text x="317.5" y="944">Mbuti</text></g>
<g id="D1-Liangdao1_EN" class="bx bbl"><rect x="147" y="1024" width="70" height="17" rx="3"/><text x="182" y="1036">Liangdao1_EN</text></g>
<g id="D1-Mongolia_N_East" class="bx bbl"><rect x="322" y="1024" width="82" height="17" rx="3"/><text x="363" y="1036">Mongolia_N_East</text></g>
<g id="D1-Taiwan_Hanben" class="bx bcy"><rect x="8" y="1072" width="76" height="15" rx="3"/><text x="46" y="1083">Taiwan_Hanben</text></g>
<g id="D1-Lajia_LN" class="bx bcy"><rect x="249" y="1071" width="46" height="16" rx="3"/><text x="272" y="1083">Lajia_LN</text></g>
<g id="D1-Miao_Kaili" class="bx bgo"><rect x="66" y="1210" width="51" height="17" rx="3"/><text x="91.5" y="1222">Miao_Kaili</text></g>
<g id="D1-Dong_Kaili" class="bx bsa"><rect x="155" y="1257" width="54" height="16" rx="3"/><text x="182" y="1269">Dong_Kaili</text></g>

<g id="D2-Mbuti" class="bx bpk"><rect x="528" y="940" width="33" height="14" rx="3"/><text x="544.5" y="951">Mbuti</text></g>
<g id="D2-Liangdao1_EN" class="bx bsk"><rect x="479" y="1045" width="71" height="16" rx="3"/><text x="514.5" y="1057">Liangdao1_EN</text></g>
<g id="D2-Mongolia_N_East" class="bx btl"><rect x="451" y="1098" width="82" height="16" rx="3"/><text x="492" y="1110">Mongolia_N_East</text></g>
<g id="D2-Taiwan_Hanben" class="bx btl"><rect x="540" y="1098" width="75" height="16" rx="3"/><text x="577.5" y="1110">Taiwan_Hanben</text></g>
<g id="D2-Lajia_LN" class="bx bgr"><rect x="422" y="1152" width="45" height="15" rx="3"/><text x="444.5" y="1163">Lajia_LN</text></g>
<g id="D2-Miao_Kaili" class="bx bgo"><rect x="699" y="1204" width="53" height="16" rx="3"/><text x="725.5" y="1216">Miao_Kaili</text></g>
<g id="D2-Gelao_Daozhen" class="bx bsa"><rect x="501" y="1257" width="75" height="16" rx="3"/><text x="538.5" y="1269">Gelao_Daozhen</text></g>

<g id="D3-Mbuti" class="bx bpk"><rect x="1028" y="939" width="32" height="15" rx="3"/><text x="1044" y="950">Mbuti</text></g>
<g id="D3-Liangdao1_EN" class="bx bsk"><rect x="1072" y="1045" width="70" height="16" rx="3"/><text x="1103" y="1057">Liangdao1_EN</text></g>
<g id="D3-Mongolia_N_East" class="bx btl"><rect x="922" y="1098" width="80" height="16" rx="3"/><text x="962" y="1110">Mongolia_N_East</text></g>
<g id="D3-Taiwan_Hanben" class="bx btl"><rect x="997" y="1098" width="76" height="16" rx="3"/><text x="1035" y="1110">Taiwan_Hanben</text></g>
<g id="D3-Lajia_LN" class="bx bgr"><rect x="869" y="1151" width="46" height="15" rx="3"/><text x="892" y="1162">Lajia_LN</text></g>
<g id="D3-Miao_Kaili" class="bx bgo"><rect x="760" y="1204" width="51" height="16" rx="3"/><text x="785.5" y="1216">Miao_Kaili</text></g>
<g id="D3-Tujia_Yanhe" class="bx bsa"><rect x="827" y="1257" width="59" height="16" rx="3"/><text x="856.5" y="1269">Tujia_Yanhe</text></g>

<g id="D1-legend" class="lg">
<text class="fbl" x="168" y="1102">Ancient Neolithic Northern East Asian MNE</text>
<text class="fbl" x="168" y="1117">Ancient Neolithic Southern East Asian Liangdao</text>
<text class="fcy" x="168" y="1131">Late Neolithic Southern East Asian Hanben</text>
<text class="fcy" x="168" y="1146">Late Neolithic Northern East Asian Lajia</text>
<text class="fgo" x="168" y="1160">Hmong-Mien Lineage Miao</text>
<text class="fsa" x="168" y="1175">Tai-Kadai Lineage Dong</text>
</g>
<g id="D2-legend" class="lg">
<text class="fbl" x="568" y="904">Ancient Ghost Northern East Asian</text>
<text class="fbl" x="568" y="919">Ancient Neolithic Southern East Asian Liangdao</text>
<text class="ftl" x="568" y="933">Neolithic Northern East Asian MNE</text>
<text class="fcy" x="568" y="947">Late Neolithic Southern East Asian Hanben</text>
<text class="fgr" x="568" y="962">Late Neolithic Northern East Asian Lajia</text>
<text class="fgo" x="568" y="976">Hmong-Mien Lineage Miao</text>
<text class="fsa" x="568" y="991">Tai-Kadai Lineage Gelao</text>
</g>
<g id="D3-legend" class="lg">
<text class="fbl" x="893" y="1185">Ancient Ghost Northern East Asian</text>
<text class="fbl sm" x="893" y="1199">Ancient Neolithic Southern East Asian Liangdao</text>
<text class="ftl" x="893" y="1214">Neolithic Northern East Asian MNE</text>
<text class="ftl" x="893" y="1228">Late Neolithic Southern East Asian Hanben</text>
<text class="fgr" x="893" y="1243">Late Neolithic Northern East Asian Lajia</text>
<text class="fgo" x="893" y="1257">Hmong-Mien Lineage Miao</text>
<text class="fsa" x="893" y="1272">Tibeto-Burman Lineage Tujia</text>
</g>
</g>
</svg>
